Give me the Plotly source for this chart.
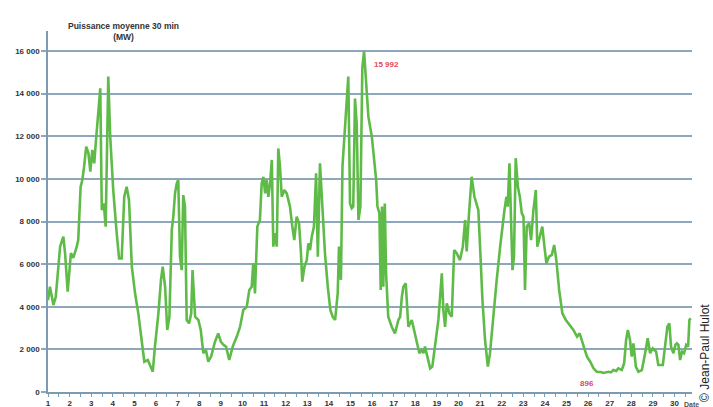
import plotly.graph_objects as go

# Day of month (fractional) and 30-min average power (MW)
days = [1.00, 1.09, 1.25, 1.36, 1.56, 1.71, 1.79, 1.91, 2.06, 2.17, 2.33, 2.40, 2.51, 2.59, 2.67, 2.77,
        2.87, 2.96, 3.05, 3.14, 3.21, 3.30, 3.36, 3.42, 3.49, 3.58, 3.67, 3.79, 3.88, 4.02, 4.18, 4.29,
        4.41, 4.53, 4.64, 4.75, 4.88, 5.03, 5.18, 5.34, 5.46, 5.62, 5.80, 5.85, 5.95, 6.11, 6.23, 6.31,
        6.42, 6.52, 6.62, 6.73, 6.80, 6.88, 6.96, 7.03, 7.11, 7.19, 7.26, 7.34, 7.42, 7.53, 7.63, 7.69,
        7.81, 7.96, 8.07, 8.19, 8.31, 8.42, 8.55, 8.73, 8.88, 9.00, 9.12, 9.24, 9.39, 9.55, 9.74, 9.89,
        10.04, 10.20, 10.32, 10.43, 10.50, 10.58, 10.69, 10.81, 10.89, 10.97, 11.05, 11.12, 11.20, 11.28,
        11.36, 11.43, 11.51, 11.59, 11.66, 11.74, 11.82, 11.94, 12.05, 12.20, 12.31, 12.40, 12.51, 12.62,
        12.71, 12.77, 12.87, 12.98, 13.05, 13.13, 13.21, 13.31, 13.41, 13.49, 13.59, 13.67, 13.82, 13.95,
        14.07, 14.18, 14.29, 14.41, 14.47, 14.56, 14.63, 14.72, 14.83, 14.90, 14.98, 15.06, 15.13, 15.21,
        15.29, 15.37, 15.46, 15.55, 15.63, 15.72, 15.83, 15.99, 16.09, 16.19, 16.25, 16.34, 16.40, 16.46,
        16.52, 16.59, 16.65, 16.75, 16.91, 17.06, 17.22, 17.30, 17.38, 17.45, 17.56, 17.68, 17.84, 17.94,
        18.07, 18.19, 18.30, 18.38, 18.45, 18.56, 18.69, 18.79, 18.92, 19.07, 19.23, 19.30, 19.38, 19.46,
        19.58, 19.69, 19.80, 19.92, 20.07, 20.20, 20.31, 20.38, 20.49, 20.61, 20.74, 20.85, 20.92, 21.00,
        21.11, 21.23, 21.36, 21.46, 21.62, 21.77, 21.93, 22.03, 22.13, 22.22, 22.28, 22.36, 22.42, 22.50,
        22.57, 22.65, 22.75, 22.84, 22.93, 23.01, 23.08, 23.16, 23.27, 23.36, 23.47, 23.58, 23.65, 23.73,
        23.88, 23.98, 24.07, 24.19, 24.32, 24.43, 24.53, 24.66, 24.81, 24.97, 25.17, 25.32, 25.49, 25.61,
        25.80, 25.95, 26.10, 26.25, 26.40, 26.59, 26.71, 26.83, 26.94, 27.05, 27.17, 27.30, 27.40, 27.56,
        27.67, 27.76, 27.84, 27.94, 28.02, 28.10, 28.21, 28.33, 28.49, 28.64, 28.76, 28.87, 28.99, 29.15,
        29.25, 29.46, 29.56, 29.67, 29.76, 29.84, 29.95, 30.04, 30.11, 30.18, 30.26, 30.35, 30.44, 30.54,
        30.63, 30.69, 30.75]

power_mw = [4300, 4940, 4080, 4470, 6820, 7290, 6520, 4710, 6520, 6290, 6820, 7130, 9630, 9950, 10570, 11510,
            11210, 10340, 11360, 10730, 11670, 12920, 13390, 14250, 8540, 8850, 7760, 14800, 11980, 9480, 7450, 6270,
            6270, 9160, 9630, 9010, 5880, 4630, 3690, 2440, 1420, 1500, 1030, 950, 2130, 3690, 5260, 5880,
            4940, 2910, 3530, 7600, 8230, 9320, 9790, 9950, 6350, 5720, 9240, 8700, 3380, 3220, 3690, 5720,
            3530, 3380, 2910, 1820, 1970, 1420, 1660, 2360, 2750, 2360, 2210, 2130, 1500, 2130, 2600, 3060,
            3850, 4000, 4790, 4940, 6040, 4630, 7760, 8070, 9790, 10100, 9320, 9950, 9160, 9790,
            10890, 6820, 7450, 6820, 11430, 10570, 9160, 9480, 9320, 8700, 7760, 7130, 8230, 7920,
            6510, 5180, 5880, 6190, 6980, 6660, 7290, 7760, 10260, 6350, 10730, 9320, 6510, 4940,
            3850, 3530, 3380, 4630, 6820, 5260, 10570, 11980, 13700, 14800, 8850, 8620, 8700, 13770,
            12600, 8070, 8700, 15200, 15992, 14640, 12920, 11980, 10890, 9950, 8700, 8390, 4790, 8700,
            4940, 8850, 5570, 3530, 3060, 2750, 3380, 3530, 4470, 4940, 5100, 3060, 3380, 2910,
            2440, 1820, 1970, 1820, 2130, 1660, 1110, 1190, 2130, 3380, 5570, 3850, 3060, 4160,
            3690, 3530, 6660, 6510, 6190, 6820, 8070, 6600, 8400, 10100, 9160, 8700, 8540, 6820,
            4320, 2440, 1190, 1820, 3690, 5260, 6820, 7760, 8540, 9160, 8700, 10730, 8390, 5720,
            6350, 10970, 9630, 9160, 8390, 8230, 4790, 7760, 7920, 7130, 8540, 9480, 6820, 7130,
            7760, 6820, 6040, 6350, 6430, 6900, 6190, 4790, 3690, 3380, 3100, 2910, 2600, 2750,
            2130, 1660, 1420, 1110, 950, 940, 896, 910, 950, 920, 1030, 990, 1110, 1030,
            1350, 2440, 2910, 2440, 1660, 2280, 1190, 950, 1030, 1820, 2520, 1820, 2050, 1890,
            1270, 1270, 2130, 3060, 3220, 2130, 1820, 2210, 2280, 2210, 1500, 1890, 1820, 2210,
            2130, 3380, 3460]

x_tick_vals = list(range(1, 31))
x_tick_text = [str(d) for d in x_tick_vals]
y_tick_vals = [0, 2000, 4000, 6000, 8000, 10000, 12000, 14000, 16000]
y_tick_text = ["0", "2 000", "4 000", "6 000", "8 000", "10 000", "12 000", "14 000", "16 000"]

title_text = "Puissance moyenne 30 min<br>(MW)"
x_axis_label = "Date"
credit = "© Jean-Paul Hulot"

GREEN = "#5fbb48"
GRID = "#8da8bc"
AXIS = "#7d9bb0"
LABEL = "#333333"
RED = "#e5485a"
FONT = "Liberation Sans"

fig = go.Figure()
fig.add_trace(go.Scatter(x=days, y=power_mw, mode="lines",
                         line=dict(color=GREEN, width=2.6), hoverinfo="skip"))

i_max = power_mw.index(max(power_mw))
i_min = power_mw.index(min(power_mw))

def fmt(v):
    return f"{v:,}".replace(",", " ")

fig.add_annotation(x=days[i_max], y=power_mw[i_max], text="<b>" + fmt(power_mw[i_max]) + "</b>",
                   showarrow=False, xanchor="left", yanchor="middle", xshift=8, yshift=-13,
                   font=dict(family=FONT, size=8, color=RED))
fig.add_annotation(x=25.95, y=420, text="<b>" + fmt(power_mw[i_min]) + "</b>",
                   showarrow=False, xanchor="center", yanchor="middle",
                   font=dict(family=FONT, size=8, color=RED))

fig.add_annotation(xref="paper", yref="paper", x=0.1165, y=0.998, text="<b>" + title_text + "</b>",
                   showarrow=False, xanchor="center", yanchor="middle", align="center",
                   font=dict(family=FONT, size=8.5, color=LABEL))
fig.add_annotation(xref="paper", yref="paper", x=0.9985, y=-0.034, text="<b>" + x_axis_label + "</b>",
                   showarrow=False, xanchor="center", yanchor="middle",
                   font=dict(family=FONT, size=7, color="#555555"))
fig.add_annotation(xref="paper", yref="paper", x=1.02, y=0.108, text=credit, textangle=-90,
                   showarrow=False, xanchor="center", yanchor="middle",
                   font=dict(family=FONT, size=12, color="#222222"))

fig.update_layout(
    width=713, height=407, autosize=False,
    margin=dict(l=48, r=21, t=31, b=15, autoexpand=False),
    paper_bgcolor="white", plot_bgcolor="white",
    showlegend=False,
    xaxis=dict(range=[1, 30.81], tickvals=x_tick_vals, ticktext=x_tick_text, automargin=False,
               showgrid=False, zeroline=False, showline=True, linecolor=AXIS, linewidth=1.5,
               ticks="outside", ticklen=3, tickcolor=AXIS, tickwidth=1,
               minor=dict(dtick=0.5, tick0=1, ticks="outside", ticklen=3, tickcolor=AXIS, showgrid=False),
               tickfont=dict(family=FONT, size=8, color=LABEL, weight="bold")),
    yaxis=dict(range=[0, 16940], tickvals=y_tick_vals, ticktext=y_tick_text, automargin=False,
               showgrid=True, gridcolor=GRID, gridwidth=1.5, zeroline=False,
               showline=True, linecolor=AXIS, linewidth=1.5,
               ticks="outside", ticklen=5, tickcolor=GRID, tickwidth=1.5,
               tickfont=dict(family=FONT, size=8, color=LABEL, weight="bold")),
)

fig.write_html("out.html", config={"responsive": False, "displayModeBar": False},
               post_script="document.body.style.margin='0';document.body.style.overflow='hidden';")
